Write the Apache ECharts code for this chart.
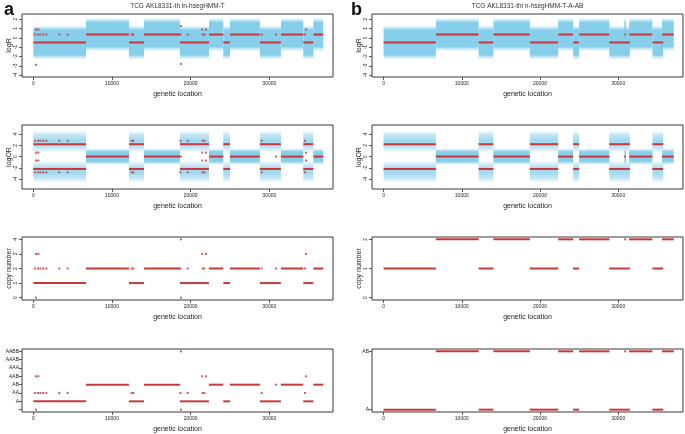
<!DOCTYPE html>
<html><head><meta charset="utf-8">
<script src="https://cdn.jsdelivr.net/npm/echarts@6/dist/echarts.min.js"></script>
<style>html,body{margin:0;padding:0;background:#fff}#c{width:685px;height:434px}</style>
</head><body><div id="c"></div>
<script>
// ---------------- data ----------------
const panelLetters = ['a', 'b'];
const sampleTitles = ['TCG AKL8331-th in-hsegHMM-T', 'TCG AKL8331-thi n-hsegHMM-T-A-AB'];
const xTicks = [0, 10000, 20000, 30000];
const logRTicks = [-4, -3, -2, -1, 0, 1, 2];
const logORTicks = [-4, -2, 0, 2, 4];
const copyTicksA = [0, 1, 2, 3, 4];
const copyTicksB = [0, 1, 2];
const genoTicksA = [0, 1, 2, 3, 4, 5, 6, 7];
const genoLabelsA = ['', 'A', 'AA', 'AB', 'AAB', 'AAA', 'AAAB', 'AABB'];
const genoTicksB = [1, 2];
const genoLabelsB = ['', 'A', 'AB'];

// segments (genetic location start/end, state 1 = low / state 2 = high)
const segStartA = [0, 6700, 12160, 14070, 18640, 22330, 24150, 25000, 28800, 31480, 34320, 35600];
const segEndA   = [6700, 12160, 14070, 18640, 22330, 24150, 25000, 28800, 31480, 34320, 35600, 36860];
const segStateA = [1, 2, 1, 2, 1, 2, 1, 2, 1, 2, 1, 2];

const segStartB = [0, 6680, 12150, 14040, 18700, 22320, 24230, 25000, 28850, 30780, 31400, 34370, 35600];
const segEndB   = [6680, 12150, 14040, 18700, 22320, 24230, 25000, 28870, 31490, 30980, 34370, 35750, 37100];
const segStateB = [1, 2, 1, 2, 1, 2, 1, 2, 1, 2, 2, 1, 2];

// per-state segment values
const logRByState   = [null, -0.5, 0.35];
const logRSpread    = [null, 1.85, 1.8];     // half-width of the logR point cloud
const logORByState  = [null, 2.2, 0];        // plotted as +/- for imbalanced
const logORCloudImb = 2.65;                  // centre of imbalanced logOR clouds
const logORSpreadImb = 1.9;
const logORSpreadBal = 1.5;
const copyByStateA  = [null, 1, 2];
const genoByStateA  = [null, 1, 3];
const copyByStateB  = [null, 1, 2];
const genoByStateB  = [null, 1, 2];

// isolated calls in panel a: location, copy number, genotype index, logR, |logOR|
const dotX    = [200, 600, 900, 1250, 1650, 3300, 4360, 340, 640, 340, 12500, 12710, 18700, 18770, 18770, 19620, 21525, 21740, 21480, 21950, 29030, 30850, 34530, 34660];
const dotCN   = [2, 2, 2, 2, 2, 2, 2, 3, 3, 0, 2, 2, 2, 4, 0, 2, 2, 2, 3, 3, 2, 2, 2, 3];
const dotGT   = [2, 2, 2, 2, 2, 2, 2, 4, 4, 0, 2, 2, 2, 7, 0, 2, 2, 2, 4, 4, 2, 3, 2, 4];
const dotLogR = [0.35, 0.35, 0.35, 0.35, 0.35, 0.35, 0.35, 0.9, 0.9, -2.9, 0.35, 0.35, 0.35, 1.25, -2.8, 0.35, 0.35, 0.35, 0.9, 0.9, 0.35, 0.35, 0.35, 0.9];
const dotLogOR = [2.8, 2.8, 2.8, 2.8, 2.8, 2.8, 2.8, 0.7, 0.7, null, 2.8, 2.8, 2.8, 0, null, 2.8, 2.8, 2.8, 0.7, 0.7, 2.8, 0, 2.8, 0.7];

// ---------------- styling / layout ----------------
const RED = '#C8383A';
const BLUE = '135,206,235';
const FONT = '"Liberation Sans", Arial, sans-serif';
const colLeft = [22, 372];
const colWidth = 311;
const xRange = [[-1440, 38100], [-1480, 38280]];
const rowTop = [14, 125, 237, 349];
const rowHeight = [63, 64, 63, 63];

const denseStops = [[0, 0], [0.06, 0.35], [0.14, 1], [0.86, 1], [0.94, 0.35], [1, 0]];
const balStops = [[0, 0], [0.1, 0.4], [0.22, 1], [0.78, 1], [0.9, 0.4], [1, 0]];
const sparseStops = [[0, 0], [0.15, 0.45], [0.45, 0.78], [0.7, 0.65], [0.88, 0.32], [1, 0]];

function grad(stops, flip) {
  return new echarts.graphic.LinearGradient(0, flip ? 1 : 0, 0, flip ? 0 : 1,
    stops.map(s => ({offset: s[0], color: 'rgba(' + BLUE + ',' + s[1] + ')'})));
}
function cloudRender(stops) {
  return function (params, api) {
    const x0 = api.value(0), x1 = api.value(1), c = api.value(2), h = api.value(3);
    const p0 = api.coord([x0, c + h]);
    const p1 = api.coord([x1, c - h]);
    const cs = params.coordSys;
    const shape = echarts.graphic.clipRectByRect(
      {x: p0[0], y: p0[1], width: p1[0] - p0[0], height: p1[1] - p0[1]},
      {x: cs.x, y: cs.y, width: cs.width, height: cs.height});
    if (!shape) return;
    return {type: 'rect', shape: shape, style: {fill: grad(stops, c < 0)}};
  };
}
function segRender(params, api) {
  const a = api.coord([api.value(0), api.value(2)]);
  const b = api.coord([api.value(1), api.value(2)]);
  return {type: 'line', shape: {x1: a[0], y1: a[1], x2: b[0], y2: b[1]},
          style: {stroke: RED, lineWidth: 2}};
}

const grids = [], xAxes = [], yAxes = [], series = [];
const axisCommonX = (col) => ({
  type: 'value', min: xRange[col][0], max: xRange[col][1],
  axisLine: {show: false, onZero: false}, splitLine: {show: false},
  axisTick: {show: true, customValues: xTicks, length: 3, lineStyle: {color: '#333', width: 0.8}},
  axisLabel: {customValues: xTicks, fontSize: 5, margin: 4, color: '#222', fontFamily: FONT,
              formatter: v => String(v)},
  name: 'genetic location', nameLocation: 'middle', nameGap: 14,
  nameTextStyle: {fontSize: 7, color: '#222', fontFamily: FONT}
});
function yAxisDef(min, max, ticks, name, labels) {
  return {
    type: 'value', min: min, max: max,
    axisLine: {show: false, onZero: false}, splitLine: {show: false},
    axisTick: {show: true, customValues: ticks, length: 3, lineStyle: {color: '#333', width: 0.8}},
    axisLabel: labels ? {customValues: ticks, fontSize: 5, margin: 3, color: '#222', fontFamily: FONT,
                         formatter: v => labels[Math.round(v)]}
                      : {customValues: ticks, fontSize: 5, margin: 4, rotate: 90, color: '#222', fontFamily: FONT,
                         formatter: v => String(v)},
    name: name || '', nameLocation: 'middle', nameGap: 9, nameRotate: 90,
    nameTextStyle: {fontSize: 7, color: '#222', fontFamily: FONT}
  };
}

const panels = [
  {start: segStartA, end: segEndA, state: segStateA, copy: copyByStateA, geno: genoByStateA,
   copyRange: [-0.16, 4.16], copyTicks: copyTicksA, genoRange: [-0.28, 7.28], genoTicks: genoTicksA, genoLabels: genoLabelsA, dots: true},
  {start: segStartB, end: segEndB, state: segStateB, copy: copyByStateB, geno: genoByStateB,
   copyRange: [-0.08, 2.08], copyTicks: copyTicksB, genoRange: [0.96, 2.04], genoTicks: genoTicksB, genoLabels: genoLabelsB, dots: false}
];

panels.forEach((P, col) => {
  for (let r = 0; r < 4; r++) {
    grids.push({left: colLeft[col], top: rowTop[r], width: colWidth, height: rowHeight[r],
                show: true, borderColor: '#3a3a3a', borderWidth: 1, backgroundColor: '#fff'});
    xAxes.push(Object.assign({gridIndex: grids.length - 1}, axisCommonX(col)));
  }
  const g0 = col * 4;
  yAxes.push(Object.assign({gridIndex: g0}, yAxisDef(-4.2, 2.55, logRTicks, 'logR')));
  yAxes.push(Object.assign({gridIndex: g0 + 1}, yAxisDef(-5.75, 5.6, logORTicks, 'logOR')));
  yAxes.push(Object.assign({gridIndex: g0 + 2}, yAxisDef(P.copyRange[0], P.copyRange[1], P.copyTicks, 'copy number')));
  yAxes.push(Object.assign({gridIndex: g0 + 3}, yAxisDef(P.genoRange[0], P.genoRange[1], P.genoTicks, '', P.genoLabels)));

  const n = P.start.length;
  const logRCloud = [], logRSeg = [], orCloudBal = [], orCloudImb = [], orSeg = [], cnSeg = [], gtSeg = [];
  for (let i = 0; i < n; i++) {
    const s = P.state[i], a = P.start[i], b = P.end[i];
    logRCloud.push([a, b, logRByState[s], logRSpread[s]]);
    logRSeg.push([a, b, logRByState[s]]);
    if (logORByState[s] === 0) {
      orCloudBal.push([a, b, 0, logORSpreadBal]);
      orSeg.push([a, b, 0]);
    } else {
      orCloudImb.push([a, b, logORCloudImb, logORSpreadImb]);
      orCloudImb.push([a, b, -logORCloudImb, logORSpreadImb]);
      orSeg.push([a, b, logORByState[s]]);
      orSeg.push([a, b, -logORByState[s]]);
    }
    cnSeg.push([a, b, P.copy[s]]);
    gtSeg.push([a, b, P.geno[s]]);
  }
  const enc = {x: [0, 1], y: 2};
  series.push({type: 'custom', xAxisIndex: g0, yAxisIndex: g0, renderItem: cloudRender(denseStops), data: logRCloud, encode: enc, silent: true});
  series.push({type: 'custom', xAxisIndex: g0, yAxisIndex: g0, renderItem: segRender, data: logRSeg, encode: enc, z: 3});
  series.push({type: 'custom', xAxisIndex: g0 + 1, yAxisIndex: g0 + 1, renderItem: cloudRender(sparseStops), data: orCloudImb, encode: enc, silent: true});
  series.push({type: 'custom', xAxisIndex: g0 + 1, yAxisIndex: g0 + 1, renderItem: cloudRender(balStops), data: orCloudBal, encode: enc, silent: true});
  series.push({type: 'custom', xAxisIndex: g0 + 1, yAxisIndex: g0 + 1, renderItem: segRender, data: orSeg, encode: enc, z: 3});
  series.push({type: 'custom', xAxisIndex: g0 + 2, yAxisIndex: g0 + 2, renderItem: segRender, data: cnSeg, encode: enc, z: 3});
  series.push({type: 'custom', xAxisIndex: g0 + 3, yAxisIndex: g0 + 3, renderItem: segRender, data: gtSeg, encode: enc, z: 3});

  if (P.dots) {
    const dR = [], dOR = [], dCN = [], dGT = [];
    for (let i = 0; i < dotX.length; i++) {
      dR.push([dotX[i], dotLogR[i]]);
      if (dotLogOR[i] !== null) {
        dOR.push([dotX[i], dotLogOR[i]]);
        if (dotLogOR[i] !== 0) dOR.push([dotX[i], -dotLogOR[i]]);
      }
      dCN.push([dotX[i], dotCN[i]]);
      dGT.push([dotX[i], dotGT[i]]);
    }
    const dotStyle = {type: 'scatter', symbol: 'rect', symbolSize: 2, itemStyle: {color: RED}, z: 4, silent: true};
    series.push(Object.assign({xAxisIndex: g0, yAxisIndex: g0, data: dR}, dotStyle));
    series.push(Object.assign({xAxisIndex: g0 + 1, yAxisIndex: g0 + 1, data: dOR}, dotStyle));
    series.push(Object.assign({xAxisIndex: g0 + 2, yAxisIndex: g0 + 2, data: dCN}, dotStyle));
    series.push(Object.assign({xAxisIndex: g0 + 3, yAxisIndex: g0 + 3, data: dGT}, dotStyle));
  }
});

const graphics = [];
panelLetters.forEach((L, col) => {
  graphics.push({type: 'text', x: 4 + col * 347, y: 1, z: 10,
    style: {text: L, font: 'bold 18px ' + FONT, fill: '#111', align: 'left', verticalAlign: 'top'}});
  graphics.push({type: 'text', x: colLeft[col] + colWidth / 2, y: 6, z: 10,
    style: {text: sampleTitles[col], font: '6.5px ' + FONT, fill: '#333', align: 'center', verticalAlign: 'middle'}});
});

const chart = echarts.init(document.getElementById('c'), null, {renderer: 'canvas'});
chart.setOption({
  animation: false,
  backgroundColor: '#fff',
  grid: grids, xAxis: xAxes, yAxis: yAxes, series: series, graphic: graphics
});
</script></body></html>
